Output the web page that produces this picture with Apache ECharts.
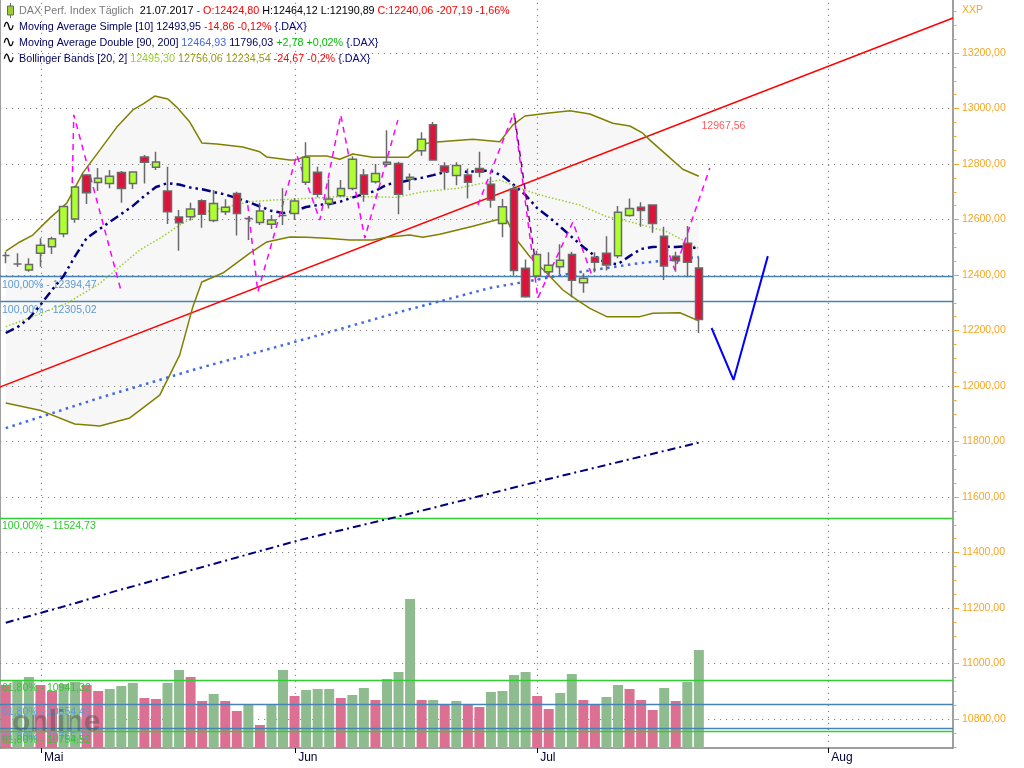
<!DOCTYPE html>
<html><head><meta charset="utf-8">
<script src="https://cdn.jsdelivr.net/npm/echarts@6/dist/echarts.min.js"></script>
<style>html,body{margin:0;padding:0;background:#fff}#c{width:1024px;height:768px}</style>
</head><body><div id="c"></div>
<script>
// ---- DATA (trading-day index 0..60 = 26.04.2017 .. 21.07.2017) ----
const opens  = [12470,12440,12418,12478,12502,12549,12602,12760,12733,12730,12769,12730,12825,12788,12703,12609,12610,12668,12596,12628,12694,12604,12589,12583,12614,12622,12734,12770,12658,12686,12712,12760,12736,12799,12802,12745,12848,12941,12793,12759,12760,12784,12727,12586,12710,12424,12396,12412,12430,12474,12372,12464,12478,12469,12614,12644,12652,12540,12468,12514,12424.80];
const closes = [12470,12440,12438,12507,12531,12647,12717,12696,12749,12756,12712,12771,12806,12807,12628,12588,12638,12619,12658,12644,12622,12604,12631,12598,12614,12667,12824,12691,12674,12712,12817,12691,12766,12806,12691,12752,12889,12814,12772,12795,12734,12770,12670,12646,12416,12322,12474,12435,12453,12381,12388,12446,12436,12626,12640,12632,12586,12432,12451,12446,12240.06];
const lows   = [12442,12430,12412,12430,12476,12536,12588,12656,12703,12713,12660,12710,12730,12778,12584,12487,12596,12570,12590,12616,12542,12526,12580,12566,12580,12598,12724,12680,12640,12680,12705,12664,12730,12790,12619,12706,12830,12814,12709,12723,12676,12752,12642,12536,12397,12318,12390,12400,12404,12320,12336,12410,12416,12460,12610,12574,12552,12382,12412,12392,12190.89];
const highs  = [12484,12478,12460,12532,12538,12650,12722,12764,12786,12778,12775,12771,12832,12844,12790,12634,12660,12673,12706,12673,12700,12610,12660,12616,12713,12677,12878,12790,12745,12742,12828,12782,12800,12922,12808,12766,12914,12951,12806,12806,12784,12844,12754,12674,12724,12456,12487,12482,12511,12484,12406,12482,12540,12649,12676,12662,12652,12574,12484,12577,12464.12];
const volumes = [63,68,71,63,57,64,66,63,57,59,62,65,50,49,65,78,71,47,54,47,37,44,23,44,78,52,58,59,59,50,53,60,48,69,76,149,48,48,44,47,44,41,56,57,73,76,52,39,55,74,48,43,51,63,59,48,38,60,47,66,98];
const volUp = [0,1,1,0,0,1,1,0,0,1, 1,1,0,0,1,1,0,0,1,0, 0,1,0,1,1,0,1,1,1,0, 1,1,0,1,1,1,0,1,0,1, 0,0,1,1,1,1,0,0,1,1, 0,0,1,1,0,0,0,1,0,1, 1];
const sma10 = [12191,12212,12243,12292,12346,12396,12468,12533,12562,12591,12620,12649,12685,12717,12731,12726,12715,12709,12699,12690,12677,12663,12647,12631,12623,12631,12645,12652,12656,12665,12679,12692,12703,12726,12733,12742,12750,12760,12771,12780,12771,12776,12775,12757,12724,12688,12641,12609,12574,12537,12501,12468,12443,12439,12468,12494,12501,12502,12501,12504,12494];
const ma90  = [[0,11848],[8.1,11957],[16.8,12065],[25.9,12169],[34.1,12267],[41.9,12353],[49.7,12411],[54.9,12443],[60,12464.93]];
const ma200 = [[0,11147],[6.15,11219],[9.26,11258],[25.45,11445],[34.1,11531],[46.2,11657],[60,11796.03]];
const bbUpper = [[0,12486],[1.21,12519],[2.34,12544],[3.81,12605],[5.28,12659],[6.67,12768],[8.14,12850],[9.61,12933],[11,12995],[11.86,13016],[12.9,13045],[14.03,13034],[14.8,13005],[15.93,12951],[16.97,12876],[18.27,12872],[20.52,12861],[21.99,12844],[22.6,12825],[24.59,12814],[25.02,12814],[26.06,12829],[27.79,12829],[28.92,12817],[30.04,12836],[31.77,12824],[34.81,12824],[35.58,12850],[36.45,12875],[37.58,12880],[40.43,12889],[42.77,12880],[43.9,12941],[44.94,12973],[46.84,12983],[48.83,12992],[50.56,12980],[52.55,12947],[54.03,12937],[55.15,12911],[55.76,12886],[57.23,12832],[58.61,12781],[60,12756.06]];
const bbMiddle = [[0,12214],[2.34,12250],[5.28,12298],[8.14,12370],[9.87,12430],[11.6,12490],[13.33,12532],[15.06,12580],[16.8,12622],[18.53,12640],[21.13,12664],[23.12,12670],[26.06,12676],[28.92,12682],[31.77,12682],[33.85,12680],[36.1,12700],[39.05,12712],[41.9,12736],[42.77,12742],[43.9,12724],[45.37,12700],[46.84,12682],[49.7,12652],[52.03,12610],[54.03,12592],[57.23,12556],[60,12495.30]];
const bbLower = [[0,11939],[2.94,11913],[5.97,11863],[8.14,11856],[10.74,11885],[13.33,11967],[15.06,12112],[16.19,12285],[16.97,12375],[18.79,12407],[21.13,12479],[22.6,12519],[24.59,12537],[26.06,12536],[27.79,12532],[29.78,12526],[31.77,12526],[32.99,12536],[34.98,12544],[36.1,12536],[37.58,12547],[40.43,12576],[42.77,12602],[43.38,12598],[44.24,12526],[45.37,12466],[46.84,12406],[48.23,12346],[49.44,12310],[50.56,12280],[52.03,12250],[54.89,12250],[56.02,12262],[58.35,12264],[60,12234.54]];
const zigzagA = [[5.71,12652],[5.89,12977],[9.96,12346]];
const zigzagB = [[20.95,12652],[21.82,12339],[25.19,12832],[27.19,12598],[29.0,12977],[31.08,12533],[33.94,12958]];
const zigzagC = [[40.87,12652],[43.98,12984],[46.06,12317],[49.09,12591],[50.82,12389]];
const zigzagD = [[57.14,12508],[57.92,12418],[60.95,12786]];
const purpleLine = [[44.07,12966],[45.8,12461]];
const trendLine = [[-0.52,11996],[82,13326]];
const trendLabel = [60.1, 12967.56];
const forecast = [[61.1,12209],[63.0,12022],[65.97,12468]];
const fibValues = [12394.47,12305.02,11524.73,10941.32,10854.49,10765.03,10754.52];
const fibPct    = ['100,00%','100,00%','100,00%','61,80%','61,80%','61,80%','61,80%'];
const fibKind   = ['blue','blue','green','green','blue','blue','green'];
const yTicks = [10800,11000,11200,11400,11600,11800,12000,12200,12400,12600,12800,13000,13200];
const yMinorTicks = [10700,10750,10850,10900,10950,11050,11100,11150,11250,11300,11350,11450,11500,11550,11650,11700,11750,11850,11900,11950,12050,12100,12150,12250,12300,12350,12450,12500,12550,12650,12700,12750,12850,12900,12950,13050,13100,13150,13250,13300,13350];
const monthTicks = [3.05, 25.05, 46, 71.2];
const monthLabels = ['Mai','Jun','Jul','Aug'];

// ---- RENDER ----
const FONT = 'Liberation Sans';
const LF = '10.75px "Liberation Sans"';
const fmt = v => v.toFixed(2).replace('.', ',');
const kindStyle = {
  blue:  {line:'#4682b4', text:'#5b9bd5'},
  green: {line:'#32cd32', text:'#2ec82e'}
};
const chart = echarts.init(document.getElementById('c'), null, {renderer:'canvas'});

const gridMarks = {
  silent:true, symbol:['none','none'], z:1, animation:false,
  label:{show:false},
  lineStyle:{color:'#8a8a8a', width:1.2, type:[1.2,4.8]},
  data: yTicks.map(v=>({yAxis:v})).concat(monthTicks.map(v=>({xAxis:v})))
};
const fibMarks = {
  silent:true, symbol:['none','none'], z:3, animation:false,
  data: fibValues.map((v,i)=>({
    yAxis:v,
    lineStyle:{color:kindStyle[fibKind[i]].line, width:1.3, type:'solid'},
    label:{show:true, position:'insideStartBottom', distance:[2,3], formatter: fibPct[i]+' - '+fmt(v),
           color:kindStyle[fibKind[i]].text, fontFamily:FONT, fontSize:10.5}
  }))
};

function lineSeries(name, data, style, z, extra) {
  return Object.assign({name, type:'line', data, xAxisIndex:0, yAxisIndex:0, showSymbol:false, symbol:'none',
    smooth:false, animation:false, silent:true, z, lineStyle:style}, extra||{});
}

const option = {
  animation:false,
  backgroundColor:'#ffffff',
  grid:{left:0, right:71, top:0, bottom:20},
  xAxis:{type:'value', min:-0.5, max:82,
    axisLine:{show:true, onZero:false, lineStyle:{color:'#808080', width:1.5}},
    axisTick:{show:true, customValues:monthTicks, length:5, lineStyle:{color:'#000'}},
    axisLabel:{show:true, customValues:monthTicks, align:'left', margin:4, padding:[0,0,0,3],
      color:'#000033', fontFamily:FONT, fontSize:12,
      formatter:(v)=>{let b=0;monthTicks.forEach((m,i)=>{if(Math.abs(m-v)<Math.abs(monthTicks[b]-v))b=i;});return monthLabels[b];}},
    splitLine:{show:false}},
  yAxis:[
    {type:'value', position:'right', min:10695.5, max:13391, scale:true,
     axisLine:{show:true, onZero:false, lineStyle:{color:'#808080', width:1.5}},
     axisTick:{show:true, customValues:yTicks, length:6, lineStyle:{color:'#f5a623', width:1}},
     axisLabel:{show:true, customValues:yTicks, margin:9, color:'#f5a623', fontFamily:FONT, fontSize:10.5, formatter:fmt},
     splitLine:{show:false}},
    {type:'value', position:'left', min:0, max:748,
     axisLine:{show:true, onZero:false, lineStyle:{color:'#808080', width:1.5}},
     axisTick:{show:false}, axisLabel:{show:false}, splitLine:{show:false}},
    {type:'value', position:'right', min:10695.5, max:13391, scale:true,
     axisLine:{show:false, onZero:false},
     axisTick:{show:true, customValues:yMinorTicks, length:3.5, lineStyle:{color:'#f5a623', width:1}},
     axisLabel:{show:false}, splitLine:{show:false}}
  ],
  series:[
    {name:'bbFill', type:'custom', xAxisIndex:0, yAxisIndex:0, z:0, silent:true, animation:false,
     data:[[0,12500]],
     renderItem:(params, api)=>{
       const pts = bbUpper.map(d=>api.coord(d)).concat(bbLower.slice().reverse().map(d=>api.coord(d)));
       return {type:'polygon', shape:{points:pts}, style:{fill:'#f7f7f7'}};
     }},
    {name:'Volume', type:'bar', xAxisIndex:0, yAxisIndex:1, barWidth:10, z:2, silent:true, animation:false,
     data: volumes.map((v,i)=>({value:[i,v], itemStyle:{color: volUp[i] ? '#8fbc8f' : '#db7093'}}))},
    lineSeries('MA200', ma200, {color:'#000080', width:2, type:[8,4,2,4]}, 3, {markLine:gridMarks}),
    lineSeries('MA90', ma90, {color:'#4169e1', width:2.5, type:[2.5,4.5]}, 3, {markLine:fibMarks}),
    lineSeries('Trend', trendLine, {color:'#ff0000', width:1.5}, 3),
    lineSeries('BBUpper', bbUpper, {color:'#808000', width:1.5}, 3),
    lineSeries('BBLower', bbLower, {color:'#808000', width:1.5}, 3),
    lineSeries('BBMiddle', bbMiddle, {color:'#9acd32', width:1.5, type:[1.5,2]}, 3),
    lineSeries('SMA10', sma10.map((v,i)=>[i,v]), {color:'#000080', width:2.5, type:[9,4,2.5,4,2.5,4]}, 3),
    lineSeries('ZZ1', zigzagA, {color:'#ff00ff', width:1.5, type:[6,5]}, 3),
    lineSeries('ZZ2', zigzagB, {color:'#ff00ff', width:1.5, type:[6,5]}, 3),
    lineSeries('ZZ3', zigzagC, {color:'#ff00ff', width:1.5, type:[6,5]}, 3),
    lineSeries('ZZ4', zigzagD, {color:'#ff00ff', width:1.5, type:[6,5]}, 3),
    lineSeries('Purple', purpleLine, {color:'#800080', width:1.5, type:[6,5]}, 3),
    lineSeries('Forecast', forecast, {color:'#0000ff', width:2}, 3),
    {name:'DAX', type:'candlestick', xAxisIndex:0, yAxisIndex:0, z:4, silent:true, animation:false,
     barWidth:8,
     encode:{x:0, y:[1,2,3,4]},
     data: opens.map((o,i)=>[i, o, closes[i], lows[i], highs[i]]),
     itemStyle:{color:'#adff2f', color0:'#dc143c', borderColor:'#696969', borderColor0:'#696969', borderColorDoji:'#696969', borderWidth:1.5}},
    {name:'TrendLabel', type:'scatter', xAxisIndex:0, yAxisIndex:0, z:5, silent:true, animation:false,
     symbolSize:1, itemStyle:{color:'rgba(0,0,0,0)'},
     data:[trendLabel],
     label:{show:true, position:'right', offset:[-4,9], formatter: p=>fmt(p.value[1]), color:'#ff3333', fontFamily:FONT, fontSize:10.5}}
  ],
  graphic:[
    {type:'text', left:12, top:708, z:20, silent:true, style:{text:'online', font:'bold 30px "Liberation Sans"', fill:'rgba(70,70,70,0.42)'}},
    {type:'line', shape:{x1:10.5,y1:3,x2:10.5,y2:18}, style:{stroke:'#696969', lineWidth:1}, z:10},
    {type:'rect', shape:{x:7.5,y:6,width:6,height:9}, style:{fill:'#9acd32', stroke:'#696969', lineWidth:1}, z:10},
    {type:'text', x:19, y:11, z:10, style:{font:LF, verticalAlign:'middle', fill:'#000',
      text:'{g|DAX Perf. Index Täglich}  {k|21.07.2017} {r|- O:12424,80} {k|H:12464,12 L:12190,89} {r|C:12240,06 -207,19 -1,66%}',
      rich:{g:{fill:'#7a7a7a', font:LF}, k:{fill:'#000', font:LF}, r:{fill:'#ff0000', font:LF}}}},
    {type:'text', x:2, y:27, z:10, style:{text:'∿', font:'16px "DejaVu Sans"', verticalAlign:'middle', fill:'#000'}},
    {type:'text', x:2, y:43, z:10, style:{text:'∿', font:'16px "DejaVu Sans"', verticalAlign:'middle', fill:'#000'}},
    {type:'text', x:2, y:59, z:10, style:{text:'∿', font:'16px "DejaVu Sans"', verticalAlign:'middle', fill:'#000'}},
    {type:'text', x:19, y:27, z:10, style:{font:LF, verticalAlign:'middle', fill:'#000080',
      text:'{n|Moving Average Simple [10]} {n|12493,95} {r|-14,86 -0,12%} {.DAX}',
      rich:{n:{fill:'#000060', font:LF}, r:{fill:'#ff0000', font:LF}}}},
    {type:'text', x:19, y:43, z:10, style:{font:LF, verticalAlign:'middle', fill:'#000080',
      text:'{n|Moving Average Double [90, 200]} {b|12464,93} {n|11796,03} {g|+2,78 +0,02%} {.DAX}',
      rich:{n:{fill:'#000060', font:LF}, b:{fill:'#4169e1', font:LF}, g:{fill:'#00c000', font:LF}}}},
    {type:'text', x:19, y:59, z:10, style:{font:LF, verticalAlign:'middle', fill:'#000080',
      text:'{n|Bollinger Bands [20, 2]} {y|12495,30} {o|12756,06 12234,54} {r|-24,67 -0,2%} {.DAX}',
      rich:{n:{fill:'#000060', font:LF}, y:{fill:'#9acd32', font:LF}, o:{fill:'#9a9a10', font:LF}, r:{fill:'#ff0000', font:LF}}}},
    {type:'text', x:962, y:10, z:10, style:{text:'XXP', font:'10.5px "Liberation Sans"', verticalAlign:'middle', fill:'#f5a623'}}
  ]
};
chart.setOption(option);
</script>
</body></html>
